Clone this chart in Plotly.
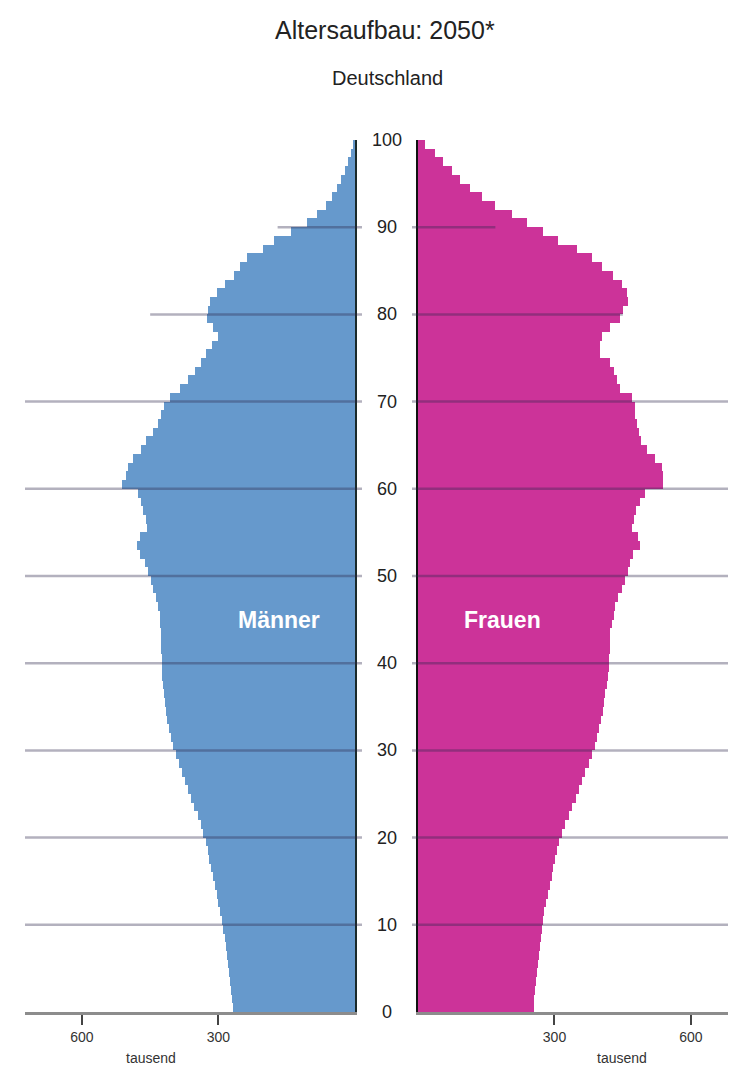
import plotly.graph_objects as go
from plotly.subplots import make_subplots

# Altersaufbau 2050 (in tausend), je Altersjahr 0..99
alter = list(range(100))
maenner = [268, 270, 272, 275, 277, 279, 281, 284, 286, 289,
           292, 296, 300, 304, 308, 312, 316, 320, 324, 328,
           333, 339, 346, 353, 360, 367, 374, 380, 387, 393,
           400, 405, 409, 413, 416, 418, 420, 422, 423, 424,
           425, 426, 427, 427, 428, 429, 432, 437, 443, 448,
           455, 462, 472, 479, 473, 457, 460, 466, 470, 477,
           512, 503, 498, 488, 470, 460, 444, 433, 427, 420,
           407, 385, 367, 352, 338, 328, 314, 301, 312, 325,
           323, 319, 303, 286, 266, 252, 237, 202, 178, 140,
           106, 84, 63, 50, 40, 30, 22, 15, 8, 4]
frauen = [255, 256, 258, 260, 262, 264, 266, 268, 270, 272,
          275, 278, 282, 286, 290, 294, 297, 301, 305, 310,
          316, 323, 331, 339, 347, 354, 361, 368, 375, 382,
          389, 394, 398, 402, 406, 409, 412, 415, 417, 419,
          420, 421, 422, 423, 426, 430, 434, 440, 448, 454,
          461, 466, 473, 488, 484, 470, 475, 480, 488, 499,
          538, 538, 536, 521, 503, 490, 486, 481, 478, 476,
          470, 444, 438, 430, 422, 400, 400, 405, 422, 444,
          450, 462, 459, 448, 429, 404, 382, 349, 308, 275,
          239, 206, 169, 140, 114, 92, 74, 55, 37, 15]

y_ticks = [0, 10, 20, 30, 40, 50, 60, 70, 80, 90, 100]
x_ticks = [300, 600]
grid_voll = [10, 20, 30, 40, 50, 60, 70]
grid_kurz = {80: 450, 90: 170}   # Alter: Länge der Linie in tausend

# die Seite hat 8px Rand um die Grafik
RAND = 8
W, H = 736 - RAND, 1069 - RAND
blau = '#6699cc'
pink = '#cc3399'
schrift = 'Liberation Sans, Arial'


def px(x):  # Pixel im Bild -> paper x
    return (x - RAND) / W


def py(y):  # Pixel im Bild -> paper y
    return 1 - (y - RAND) / H


# Bereich der beiden Seiten in Pixeln (Bild)
links_px = (25, 355)
rechts_px = (418, 736)
oben_px, unten_px = 140, 1012
x_max_links = 725
x_max_rechts = 699

fig = make_subplots(rows=1, cols=2, shared_yaxes=False, horizontal_spacing=0)

fig.add_trace(go.Bar(y=alter, x=maenner, orientation='h', width=1, offset=0,
                     marker=dict(color=blau, line=dict(width=0)),
                     name='Männer', showlegend=False), row=1, col=1)
fig.add_trace(go.Bar(y=alter, x=frauen, orientation='h', width=1, offset=0,
                     marker=dict(color=pink, line=dict(width=0)),
                     name='Frauen', showlegend=False), row=1, col=2)

dom_y = [py(unten_px), py(oben_px)]
achse_x = dict(showgrid=False, zeroline=False, showline=True, linecolor='#8c8c8c', linewidth=3,
               ticks='outside', ticklen=10, tickwidth=1.5, tickcolor='#444', tickvals=x_ticks,
               tickfont=dict(size=14, color='#333'))

fig.update_layout(
    width=W, height=H,
    margin=dict(l=0, r=0, t=0, b=0),
    paper_bgcolor='white', plot_bgcolor='white',
    bargap=0,
    font=dict(family=schrift, color='#222'),
    xaxis=dict(domain=[px(links_px[0]), px(links_px[1])], range=[x_max_links, 0], **achse_x),
    xaxis2=dict(domain=[px(rechts_px[0]), 1.0], range=[0, x_max_rechts], **achse_x),
    yaxis=dict(domain=dom_y, range=[0, 100], side='right', showgrid=False, zeroline=False,
               showline=True, linecolor='#1a2a2a', linewidth=2, showticklabels=False, ticks=''),
    yaxis2=dict(domain=dom_y, range=[0, 100], side='left', showgrid=False, zeroline=False,
                showline=True, linecolor='#111', linewidth=2, showticklabels=False, ticks=''),
)

# Hilfslinien über den Balken
linie = dict(color='rgba(45,40,75,0.36)', width=2.5)
for a in grid_voll:
    fig.add_shape(type='line', xref='paper', yref='y', x0=px(links_px[0]), x1=px(362),
                  y0=a, y1=a, line=linie, layer='above')
    fig.add_shape(type='line', xref='paper', yref='y', x0=px(412), x1=1.0,
                  y0=a, y1=a, line=linie, layer='above')
px_pro_tsd = (links_px[1] - links_px[0]) / x_max_links
for a, laenge in grid_kurz.items():
    fig.add_shape(type='line', xref='paper', yref='y',
                  x0=px(links_px[1] - laenge * px_pro_tsd), x1=px(362),
                  y0=a, y1=a, line=linie, layer='above')
    fig.add_shape(type='line', xref='paper', yref='y', x0=px(412),
                  x1=px(rechts_px[0] + laenge * px_pro_tsd),
                  y0=a, y1=a, line=linie, layer='above')

# Alters-Beschriftung in der Mitte
for a in y_ticks:
    fig.add_annotation(x=px(387), xref='paper', y=a, yref='y', text=str(a),
                       showarrow=False, xanchor='center', yanchor='middle',
                       font=dict(size=18, color='#222'))

fig.add_annotation(x=px(385), y=py(30), xref='paper', yref='paper', text='Altersaufbau: 2050*',
                   showarrow=False, xanchor='center', yanchor='middle',
                   font=dict(size=25, color='#222'))
fig.add_annotation(x=px(387), y=py(78), xref='paper', yref='paper', text='Deutschland',
                   showarrow=False, xanchor='center', yanchor='middle',
                   font=dict(size=20, color='#222'))
fig.add_annotation(x=px(279), y=py(620), xref='paper', yref='paper', text='<b>Männer</b>',
                   showarrow=False, xanchor='center', yanchor='middle',
                   font=dict(size=23, color='white'))
fig.add_annotation(x=px(502), y=py(620), xref='paper', yref='paper', text='<b>Frauen</b>',
                   showarrow=False, xanchor='center', yanchor='middle',
                   font=dict(size=23, color='white'))
for xp in (151, 622):
    fig.add_annotation(x=px(xp), y=py(1058), xref='paper', yref='paper', text='tausend',
                       showarrow=False, xanchor='center', yanchor='middle',
                       font=dict(size=14, color='#333'))

fig.write_html("out.html")
